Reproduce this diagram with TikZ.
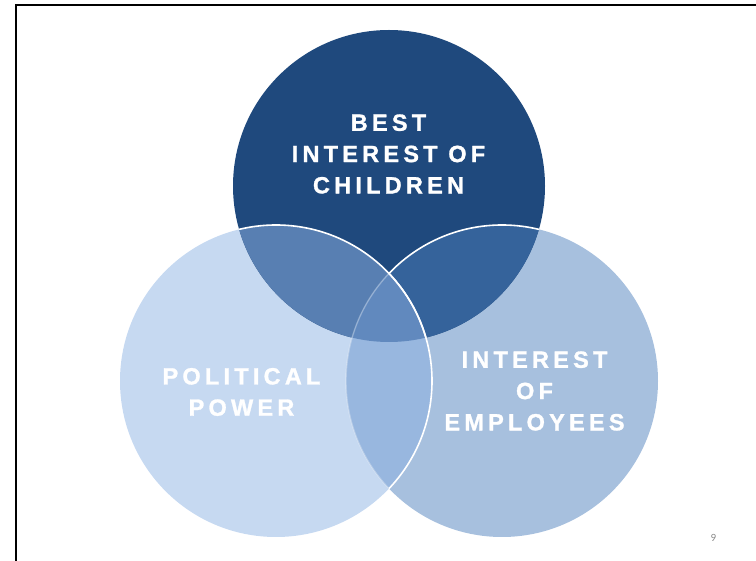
\documentclass[tikz,border=0pt]{standalone}
\usepackage{fontspec}
\setmainfont{Liberation Sans}
\newfontfamily\vennfont{Liberation Sans}[LetterSpace=18, BoldFont={Liberation Sans Bold}, BoldFeatures={FakeBold=1.2}]
\newfontfamily\numfont{Carlito}
\definecolor{cTop}{HTML}{1F497D}
\definecolor{cLeft}{HTML}{C6D9F1}
\definecolor{cRight}{HTML}{A7C0DE}
\definecolor{cTL}{HTML}{587FB2}
\definecolor{cTR}{HTML}{35639B}
\definecolor{cLR}{HTML}{98B7DF}
\definecolor{cCenter}{HTML}{6189BE}
\definecolor{pagegray}{HTML}{8A8A8A}
\tikzset{
  brightedge/.style={draw=white, line width=1.6pt},
  faintedge/.style={draw=white, draw opacity=0.3, line width=1.4pt},
  vennlabel/.style={text=white, font=\vennfont\bfseries\fontsize{23.5}{31.3}\selectfont, align=center, inner sep=0pt},
  framestyle/.style={draw=black, line width=2.5pt}
}
\begin{document}
\begin{tikzpicture}[x=1pt,y=-1pt]
\useasboundingbox (0,0) rectangle (756,561);
\coordinate (T) at (389,186);
\coordinate (L) at (276,381);
\coordinate (R) at (502,381);
% base circles
\fill[cLeft] (L) circle[radius=156pt];
\fill[cRight] (R) circle[radius=156pt];
\fill[cTop] (T) circle[radius=156pt];
% overlaps with the top circle
\begin{scope}
  \clip (T) circle[radius=156pt];
  \fill[cTR] (R) circle[radius=156pt];
  \draw[brightedge] (R) circle[radius=156pt];
  \fill[cTL] (L) circle[radius=156pt];
\end{scope}
% overlaps with the left circle
\begin{scope}
  \clip (L) circle[radius=156pt];
  \fill[cLR] (R) circle[radius=156pt];
  \begin{scope}
    \clip (T) circle[radius=156pt];
    \fill[cCenter] (R) circle[radius=156pt];
  \end{scope}
  \draw[faintedge] (R) circle[radius=156pt];
\end{scope}
% left circle edge
\begin{scope}
  \clip (T) circle[radius=156pt];
  \draw[brightedge] (L) circle[radius=156pt];
\end{scope}
\begin{scope}
  \clip (R) circle[radius=156pt];
  \draw[brightedge] (L) circle[radius=156pt];
\end{scope}
% labels
\node[vennlabel] (children) at (388.5,154) {BEST\\INTEREST OF\\CHILDREN};
\node[vennlabel] (political) at (241.5,392) {POLITICAL\\POWER};
\node[vennlabel] (employees) at (534.5,391) {INTEREST\\OF\\EMPLOYEES};
\node[text=pagegray, font=\numfont\fontsize{11}{13}\selectfont, inner sep=0pt] (pagenum) at (713.5,538) {9};
% frame
\draw[framestyle] (16,563) -- (16,5) -- (758,5);
\end{tikzpicture}
\end{document}
